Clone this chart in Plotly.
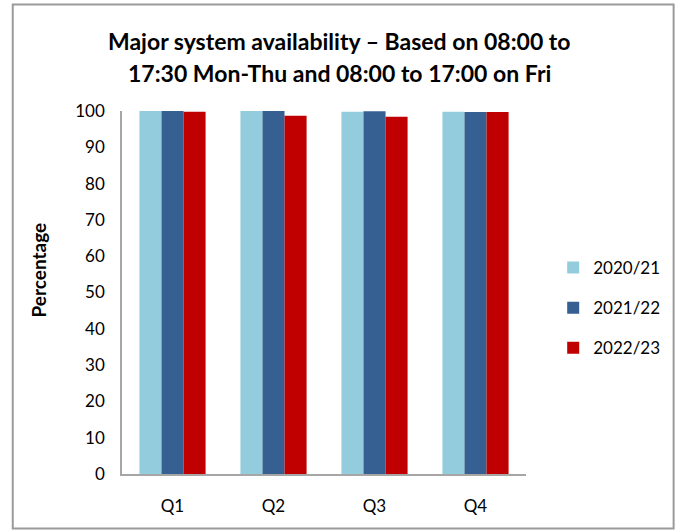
import plotly.graph_objects as go

quarters = ["Q1", "Q2", "Q3", "Q4"]
series_names = ["2020/21", "2021/22", "2022/23"]
avail_2020_21 = [100.0, 100.0, 99.8, 99.8]
avail_2021_22 = [100.0, 100.0, 99.9, 99.7]
avail_2022_23 = [99.8, 98.7, 98.4, 99.7]
y_ticks = [0, 10, 20, 30, 40, 50, 60, 70, 80, 90, 100]

colors = ["#93CDDD", "#366092", "#C00000"]
FONT = "Lato, 'Open Sans', sans-serif"

W, H = 677, 532
L, R, T, B = 122, 139, 111, 58

fig = go.Figure()
for name, vals, col in zip(series_names, [avail_2020_21, avail_2021_22, avail_2022_23], colors):
    fig.add_trace(go.Bar(x=quarters, y=vals, name=name, marker_color=col,
                         marker_line_width=0, legendgroup=name))

pw = W - L - R
ph = H - T - B

def px_x(p):
    return (p - L) / pw

def px_y(p):
    return (H - B - p) / ph

fig.update_layout(
    width=W, height=H,
    margin=dict(l=L, r=R, t=T, b=B),
    paper_bgcolor="white", plot_bgcolor="white",
    barmode="group", bargap=0.345, bargroupgap=0,
    font=dict(family=FONT, size=17, color="#000000"),
    xaxis=dict(showline=True, linecolor="#A6A6A6", linewidth=1.5,
               ticks="", tickfont=dict(size=17), ticklabelstandoff=16),
    yaxis=dict(range=[0, 100], tickvals=y_ticks, showgrid=False,
               showline=True, linecolor="#A6A6A6", linewidth=1.5,
               ticks="", tickfont=dict(size=17), ticklabelstandoff=12),
    legend=dict(x=px_x(566), y=px_y(308), xanchor="left", yanchor="middle",
                font=dict(size=17), tracegroupgap=15, itemsizing="constant",
                traceorder="grouped", bgcolor="rgba(0,0,0,0)"),
    annotations=[
        dict(text="<b>Major system availability – Based on 08:00 to</b>",
             xref="paper", yref="paper", x=px_x(346), y=px_y(41),
             xanchor="center", yanchor="middle", showarrow=False,
             font=dict(size=23)),
        dict(text="<b>17:30 Mon-Thu and 08:00 to 17:00 on Fri</b>",
             xref="paper", yref="paper", x=px_x(346), y=px_y(73),
             xanchor="center", yanchor="middle", showarrow=False,
             font=dict(size=23)),
        dict(text="<b>Percentage</b>", textangle=-90,
             xref="paper", yref="paper", x=px_x(36), y=px_y(270),
             xanchor="center", yanchor="middle", showarrow=False,
             font=dict(size=19)),
    ],
    shapes=[dict(type="rect", xref="paper", yref="paper",
                 x0=px_x(9.5), x1=px_x(690), y0=px_y(528.5), y1=px_y(4.5),
                 line=dict(color="#9A9A9A", width=2), fillcolor="rgba(0,0,0,0)",
                 layer="below")],
)

fig.write_html("out.html")
